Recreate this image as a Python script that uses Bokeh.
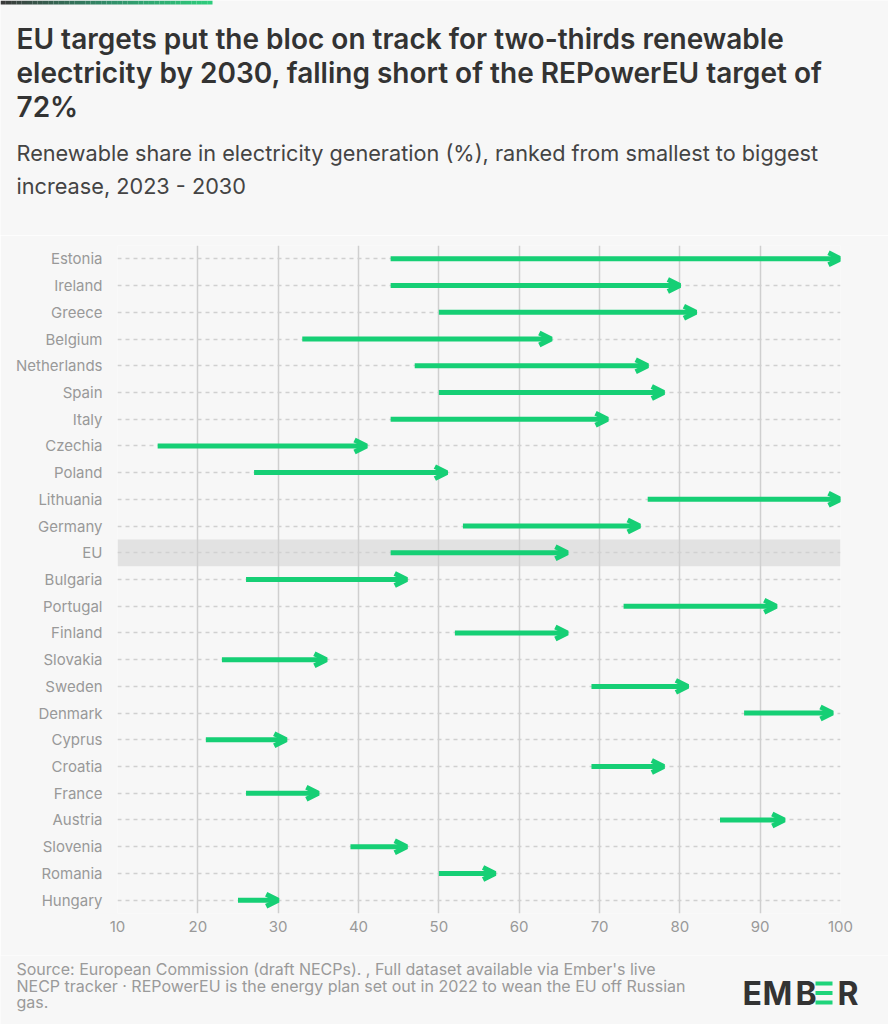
from bokeh.plotting import figure
from bokeh.models import (ColumnDataSource, FactorRange, Range1d, Arrow, OpenHead,
                          FixedTicker)
from bokeh.layouts import column
from bokeh.core.properties import value
from bokeh.embed import file_html
from bokeh.resources import INLINE
import numpy as np

# ---------------- data ----------------
countries = ["Estonia", "Ireland", "Greece", "Belgium", "Netherlands", "Spain", "Italy",
             "Czechia", "Poland", "Lithuania", "Germany", "EU", "Bulgaria", "Portugal",
             "Finland", "Slovakia", "Sweden", "Denmark", "Cyprus", "Croatia", "France",
             "Austria", "Slovenia", "Romania", "Hungary"]
share_2023 = [44, 44, 50, 33, 47, 50, 44, 15, 27, 76, 53, 44, 26, 73, 52, 23, 69, 88, 21, 69,
              26, 85, 39, 50, 25]
share_2030 = [100, 80, 82, 64, 76, 78, 71, 41, 51, 100, 75, 66, 46, 92, 66, 36, 81, 99, 31, 78,
              35, 93, 46, 57, 30]
highlight = ["EU"]
x_ticks = [10, 20, 30, 40, 50, 60, 70, 80, 90, 100]

title_lines = ["EU targets put the bloc on track for two-thirds renewable",
               "electricity by 2030, falling short of the REPowerEU target of",
               "72%"]
subtitle_lines = ["Renewable share in electricity generation (%), ranked from smallest to biggest",
                  "increase, 2023 - 2030"]
source_lines = ["Source: European Commission (draft NECPs). , Full dataset available via Ember's live",
                "NECP tracker \u00b7 REPowerEU is the energy plan set out in 2022 to wean the EU off Russian",
                "gas."]
logo_letters = ["E", "M", "B", "R"]

# ---------------- style ----------------
BG = "#f7f7f7"
GREEN = "#16cf75"
FONT = "Inter"
W = 888


def blank(height, y0, y1):
    f = figure(width=W, height=height, x_range=Range1d(0, W), y_range=Range1d(y1, y0),
               output_backend="svg", toolbar_location=None,
               min_border_left=0, min_border_right=0, min_border_top=0, min_border_bottom=0)
    f.frame_align = False
    f.axis.visible = False
    f.grid.visible = False
    f.outline_line_color = None
    f.background_fill_color = BG
    f.border_fill_color = BG
    return f


# ---------------- header ----------------
HEAD_H = 235
head = blank(HEAD_H, 0, HEAD_H)

# decorative gradient strip
n = 40
edges = np.linspace(0, 212, n + 1)
c0 = np.array([58, 58, 58]); c1 = np.array([50, 140, 105]); c2 = np.array([46, 205, 125])
cols = []
for t in np.linspace(0, 1, n):
    c = c0 + (c1 - c0) * (t / 0.5) if t < 0.5 else c1 + (c2 - c1) * ((t - 0.5) / 0.5)
    cols.append("#%02x%02x%02x" % tuple(int(v) for v in c))
head.quad(left=edges[:-1], right=edges[1:], top=[0] * n, bottom=[4] * n,
          fill_color=cols, line_color=None)

head.text(x=[16] * 3, y=[38, 72, 106], text=title_lines,
          text_font=value("'Inter SemiBold', 'Inter Semi Bold', Inter"),
          text_font_size="28px", text_color="#333333", text_baseline="middle")
head.text(x=[16] * 2, y=[152, 185], text=subtitle_lines, text_font=value(FONT),
          text_font_size="21.7px", text_color="#444444", text_baseline="middle")

# ---------------- main chart ----------------
MAIN_H = 720
src = ColumnDataSource(dict(country=countries, start=share_2023, end=share_2030))

p = figure(width=W, height=MAIN_H, y_range=FactorRange(factors=countries[::-1], range_padding=0),
           x_range=Range1d(x_ticks[0], x_ticks[-1]),
           output_backend="svg", toolbar_location=None,
           min_border_left=117, min_border_right=48, min_border_top=10, min_border_bottom=42)
p.frame_align = False
p.background_fill_color = BG
p.border_fill_color = BG
p.outline_line_color = None

p.xgrid.ticker = FixedTicker(ticks=x_ticks)
p.xgrid.grid_line_color = "#cfcfcf"
p.xgrid.grid_line_width = 1.5
p.ygrid.grid_line_color = "#d0d0d0"
p.ygrid.grid_line_dash = "4 4"
p.ygrid.grid_line_width = 1.5

p.xaxis.ticker = FixedTicker(ticks=x_ticks)
for ax in (p.xaxis, p.yaxis):
    ax.axis_line_color = None
    ax.major_tick_line_color = None
    ax.minor_tick_line_color = None
    ax.major_label_text_color = "#999999"
    ax.major_label_text_font = FONT
    ax.major_label_text_font_size = "15px"
p.yaxis.major_label_standoff = 9
p.xaxis.major_label_standoff = 1

p.hbar(y=highlight, height=1, left=x_ticks[0], right=x_ticks[-1],
       fill_color="#d2d2d2", fill_alpha=0.55, line_color=None)

p.add_layout(Arrow(x_start="start", y_start="country", x_end="end", y_end="country",
                   source=src, line_color=GREEN, line_width=5,
                   end=OpenHead(size=12, line_width=5, line_color=GREEN)))

# ---------------- footer ----------------
FOOT_H = 1024 - HEAD_H - MAIN_H
foot = blank(FOOT_H, HEAD_H + MAIN_H, 1024)
foot.text(x=[16] * 3, y=[968, 985, 1001.5], text=source_lines, text_font=value(FONT),
          text_font_size="16px", text_color="#9a9a9a", text_baseline="middle")
foot.text(x=[742, 762, 795, 837], y=[992.5] * 4, text=logo_letters, text_font=value(FONT),
          text_font_size="32px", text_font_style="bold", text_color="#333333",
          text_baseline="middle")
foot.quad(left=[815] * 3, right=[832] * 3, top=[981, 990.5, 1000], bottom=[985, 994.5, 1004],
          fill_color="#1ed47a", line_color=None)

layout = column(head, p, foot, spacing=0)
open("out.html", "w").write(file_html(layout, INLINE))
